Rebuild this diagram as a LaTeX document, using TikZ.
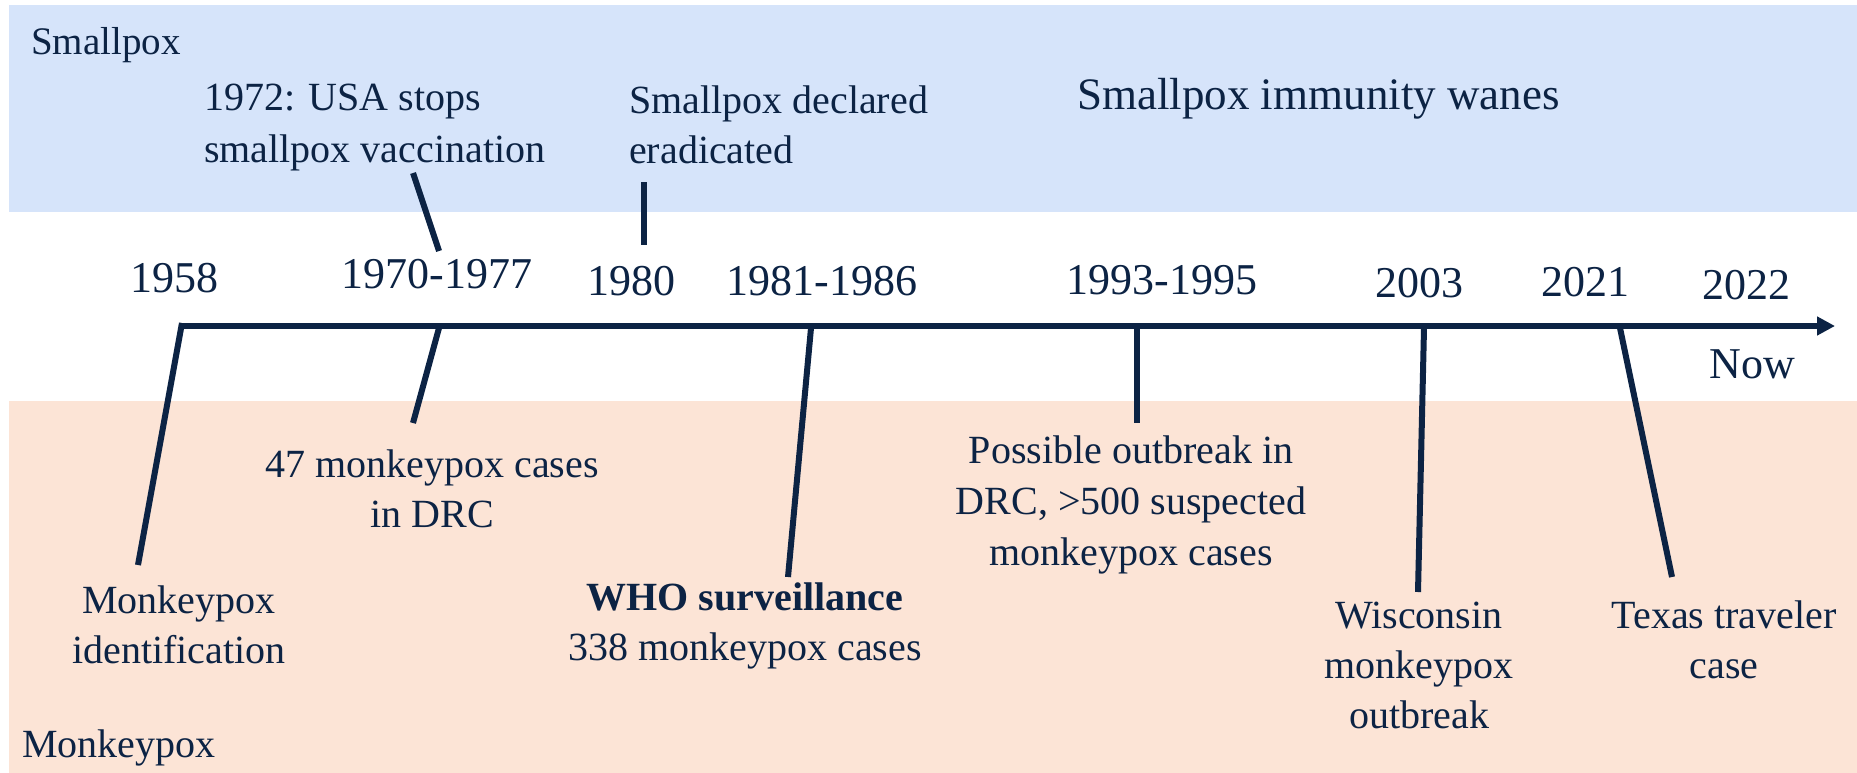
\documentclass[tikz,border=0pt]{standalone}
\usepackage{fontspec}
\setmainfont{Liberation Serif}
\usetikzlibrary{arrows.meta}
\definecolor{navy}{RGB}{12,35,68}
\definecolor{bandblue}{RGB}{214,228,250}
\definecolor{bandpeach}{RGB}{252,228,214}
\begin{document}
\begin{tikzpicture}[x=1pt,y=-1pt,
  txt/.style={text=navy, inner sep=0pt, font=\fontsize{40}{50}\selectfont},
  evt/.style={txt, align=center, anchor=base},
  yearlbl/.style={text=navy, inner sep=0pt, anchor=base, font=\fontsize{44}{50}\selectfont},
  tick/.style={draw=navy, line width=6pt},
  axisline/.style={draw=navy, line width=6pt, -{Triangle[length=18pt,width=18pt]}}]
\useasboundingbox (0,0) rectangle (1857,773);
\fill[white] (0,0) rectangle (1857,773);
\fill[bandblue] (9,5) rectangle (1857,212);
\fill[bandpeach] (9,401) rectangle (1857,773);

% band labels
\node[txt, anchor=base west, font=\fontsize{39}{50}\selectfont] (smallpox) at (31,55) {Smallpox};
\node[txt, anchor=base west] (monkeypox) at (22,757) {Monkeypox};

% upper events (base anchor = baseline of last line)
\node[txt, anchor=base west, align=left, font=\fontsize{40}{52}\selectfont] (usa) at (204,162) {1972: USA stops\\smallpox vaccination};
\node[txt, anchor=base west, align=left] (erad) at (629,163) {Smallpox declared\\eradicated};
\node[txt, anchor=base west, font=\fontsize{45}{50}\selectfont] (wanes) at (1077,110) {Smallpox immunity wanes};

% years
\node[yearlbl] (y1958) at (174,292) {1958};
\node[yearlbl] (y1970) at (437,288) {1970-1977};
\node[yearlbl] (y1980) at (631,295) {1980};
\node[yearlbl] (y1981) at (822,295) {1981-1986};
\node[yearlbl] (y1993) at (1162,294) {1993-1995};
\node[yearlbl] (y2003) at (1419,297) {2003};
\node[yearlbl] (y2021) at (1585,296) {2021};
\node[yearlbl] (y2022) at (1746,299) {2022};
\node[yearlbl] (now) at (1752,378) {Now};

% lower events (base anchor = baseline of last line)
\node[evt] (ident) at (179,663) {Monkeypox\\identification};
\node[evt] (drc47) at (432,527) {47 monkeypox cases\\in DRC};
\node[evt] (who) at (745,660) {\textbf{WHO surveillance}\\338 monkeypox cases};
\node[evt, font=\fontsize{40}{51}\selectfont] (possible) at (1131,565) {Possible outbreak in\\DRC, >500 suspected\\monkeypox cases};
\node[evt] (wisc) at (1419,728) {Wisconsin\\monkeypox\\outbreak};
\node[evt] (texas) at (1724,678) {Texas traveler\\case};

% axis
\coordinate (axL) at (182,326);
\coordinate (axR) at (1835,326);
\draw[axisline] (axL) -- (axR);

% tick coordinates
\coordinate (t1958a) at (182,323);
\coordinate (t1958b) at (138,565);
\coordinate (t1972a) at (413,173);
\coordinate (t1972b) at (439,251);
\coordinate (t1970a) at (439,328);
\coordinate (t1970b) at (413,423);
\coordinate (t1980a) at (644,182);
\coordinate (t1980b) at (644,245);
\coordinate (t1981a) at (811,328);
\coordinate (t1981b) at (788,577);
\coordinate (t1993a) at (1137,328);
\coordinate (t1993b) at (1137,423);
\coordinate (t2003a) at (1424,328);
\coordinate (t2003b) at (1418,592);
\coordinate (t2021a) at (1620,328);
\coordinate (t2021b) at (1672,577);

\draw[tick] (t1958a) -- (t1958b);
\draw[tick] (t1972a) -- (t1972b);
\draw[tick] (t1970a) -- (t1970b);
\draw[tick] (t1980a) -- (t1980b);
\draw[tick] (t1981a) -- (t1981b);
\draw[tick] (t1993a) -- (t1993b);
\draw[tick] (t2003a) -- (t2003b);
\draw[tick] (t2021a) -- (t2021b);
\end{tikzpicture}
\end{document}
